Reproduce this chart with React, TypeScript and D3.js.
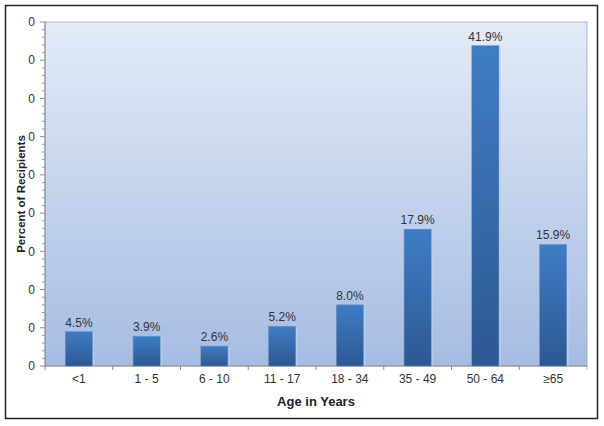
import * as d3 from 'd3'

const categories = ['<1', '1 - 5', '6 - 10', '11 - 17', '18 - 34', '35 - 49', '50 - 64', '≥65']
const percents = [4.5, 3.9, 2.6, 5.2, 8.0, 17.9, 41.9, 15.9]
// the source chart prints every y tick label as "0"
const yTicks = [0, 5, 10, 15, 20, 25, 30, 35, 40, 45]
const yTickLabels = ['0', '0', '0', '0', '0', '0', '0', '0', '0', '0']

const W = 604
const H = 426
const m = { left: 45, right: 17, top: 22, bottom: 60 }
const font = '"Liberation Sans", Arial, sans-serif'

export default function App() {
  const x = d3
    .scaleBand<string>()
    .domain(categories)
    .range([m.left, W - m.right])
    .paddingInner(0.6)
    .paddingOuter(0.3)
  const band = d3.scaleBand<string>().domain(categories).range([m.left, W - m.right])
  const y = d3.scaleLinear().domain([0, 45]).range([H - m.bottom, m.top])
  const minor = d3.range(0, 46, 1).filter((v) => v % 5 !== 0)
  const bottom = y(0)

  return (
    <div style={{ position: 'absolute', left: 0, top: 0 }}>
      <svg width={W} height={H} viewBox={`0 0 ${W} ${H}`} style={{ display: 'block', fontFamily: font }}>
        <defs>
          <linearGradient id="bg" x1="0" y1="0" x2="0" y2="1">
            <stop offset="0%" stopColor="#e3ebf7" />
            <stop offset="100%" stopColor="#a5bce2" />
          </linearGradient>
          <linearGradient id="bar" x1="0" y1="0" x2="0" y2="1">
            <stop offset="0%" stopColor="#3f7dc4" />
            <stop offset="100%" stopColor="#2c5893" />
          </linearGradient>
        </defs>
        <rect x={0} y={0} width={W} height={H} fill="#fff" />
        <rect x={5.5} y={5.5} width={592} height={413} fill="none" stroke="#222" strokeWidth={1.5} />

        <rect x={m.left} y={m.top} width={W - m.left - m.right} height={bottom - m.top} fill="url(#bg)" stroke="#9aa6b8" strokeWidth={0.8} />

        {/* y axis */}
        <line x1={m.left} x2={m.left} y1={m.top} y2={bottom} stroke="#8c8c8c" />
        {minor.map((v) => (
          <line key={'mn' + v} x1={m.left - 3} x2={m.left} y1={y(v)} y2={y(v)} stroke="#9a9a9a" />
        ))}
        {yTicks.map((v, i) => (
          <g key={'yt' + v}>
            <line x1={m.left - 5} x2={m.left} y1={y(v)} y2={y(v)} stroke="#8c8c8c" />
            <text x={m.left - 10} y={y(v)} dy="0.35em" textAnchor="end" fontSize={12} fill="#333">
              {yTickLabels[i]}
            </text>
          </g>
        ))}

        {/* x axis */}
        <line x1={m.left} x2={W - m.right} y1={bottom} y2={bottom} stroke="#8c8c8c" />
        {categories.map((c, i) => (
          <line key={'xt' + c} x1={band(c)! + band.bandwidth()} x2={band(c)! + band.bandwidth()} y1={bottom} y2={bottom + 4} stroke="#8c8c8c" opacity={i === categories.length - 1 ? 0.6 : 1} />
        ))}
        <line x1={m.left} x2={m.left} y1={bottom} y2={bottom + 4} stroke="#8c8c8c" />

        {categories.map((c, i) => {
          const bx = x(c)!
          const bw = x.bandwidth()
          const by = y(percents[i])
          return (
            <g key={c}>
              <rect x={bx + bw} y={by} width={2} height={bottom - by} fill="#c3d2ea" opacity={0.6} />
              <rect x={bx} y={by} width={bw} height={bottom - by} fill="url(#bar)" stroke="#6e8fb8" strokeWidth={0.5} />
              <text x={bx + bw / 2} y={by - 5} textAnchor="middle" fontSize={12} fill="#333">
                {percents[i].toFixed(1)}%
              </text>
              <text x={band(c)! + band.bandwidth() / 2} y={bottom + 17} textAnchor="middle" fontSize={12} fill="#333">
                {c}
              </text>
            </g>
          )
        })}

        <text x={(m.left + W - m.right) / 2} y={406} textAnchor="middle" fontSize={13} fontWeight="bold" fill="#222">
          Age in Years
        </text>
        <text transform={`translate(25,${(m.top + bottom) / 2}) rotate(-90)`} textAnchor="middle" fontSize={11.5} fontWeight="bold" fill="#222">
          Percent of Recipients
        </text>
      </svg>
    </div>
  )
}
